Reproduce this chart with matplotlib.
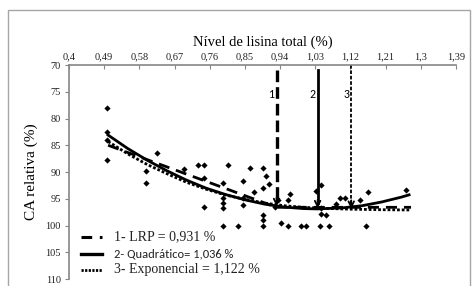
import matplotlib

matplotlib.use("Agg")
import matplotlib.pyplot as plt  # noqa: E402
from matplotlib.lines import Line2D  # noqa: E402
from matplotlib.patches import Rectangle  # noqa: E402

# pontos observados (nivel de lisina, CA relativa)
obs_x = [
    0.497, 0.497, 0.497, 0.497,
    0.597, 0.597, 0.626, 0.695, 0.729,
    0.746, 0.746, 0.746,
    0.793, 0.793, 0.793, 0.793, 0.795, 0.808, 0.832,
    0.844, 0.844, 0.844, 0.862, 0.874,
    0.896, 0.896, 0.896, 0.896, 0.896, 0.904, 0.911, 0.926,
    0.934, 0.943, 0.960, 0.960, 0.966, 0.994, 1.007,
    1.033, 1.045, 1.045, 1.045, 1.058, 1.043, 1.065,
    1.082, 1.092, 1.105, 1.145, 1.161, 1.165, 1.262,
]
obs_y = [
    78.1, 82.6, 84.0, 87.8,
    89.9, 92.0, 86.5, 89.5, 88.7,
    88.6, 91.1, 96.5,
    92.1, 94.9, 95.8, 96.7, 100.0, 88.6, 100.0,
    91.7, 94.9, 96.2, 89.2, 93.7,
    89.2, 92.9, 98.0, 99.0, 100.0, 90.7, 92.3, 96.5,
    95.2, 99.6, 95.2, 100.0, 94.2, 100.0, 100.0,
    93.6, 92.4, 96.8, 97.8, 98.0, 100.0, 100.0,
    95.9, 94.9, 94.9, 95.2, 100.0, 93.7, 93.4,
]

# curvas ajustadas
lrp_x = [0.50, 0.931, 1.275]
lrp_y = [85.0, 96.6, 96.6]

quad_x = [0.50, 0.55, 0.60, 0.65, 0.70, 0.75, 0.80, 0.85, 0.90, 0.95,
          1.00, 1.036, 1.10, 1.15, 1.20, 1.25, 1.27]
quad_y = [83.1, 85.6, 87.8, 89.75, 91.5, 93.0, 94.2, 95.2, 96.0, 96.55,
          96.84, 96.9, 96.7, 96.3, 95.6, 94.7, 94.27]

expo_x = [0.50, 0.55, 0.60, 0.65, 0.70, 0.75, 0.80, 0.85, 0.90, 0.95,
          1.00, 1.05, 1.122, 1.20, 1.275]
expo_y = [84.3, 86.6, 88.6, 90.3, 91.9, 93.2, 94.3, 95.1, 95.8, 96.3,
          96.6, 96.8, 96.95, 97.05, 97.1]

# exigencias estimadas
req_x = [0.931, 1.036, 1.122]
req_top = [71.0, 71.0, 70.0]
req_bottom = [96.4, 96.8, 96.9]
req_names = ["1", "2", "3"]

x_ticks = [0.4, 0.49, 0.58, 0.67, 0.76, 0.85, 0.94, 1.03, 1.12, 1.21, 1.3, 1.39]
y_ticks = [70, 75, 80, 85, 90, 95, 100, 105, 110]

legend_labels = ["1- LRP = 0,931 %", "2- Quadrático= 1,036 %", "3- Exponencial = 1,122 %"]

SERIF = ["Liberation Serif", "DejaVu Serif"]
SANS = ["Carlito", "Liberation Sans", "DejaVu Sans"]
GRAY = "#868686"

fig = plt.figure(figsize=(4.73, 2.86), dpi=100)
ax = fig.add_axes([69 / 473, 1 - 279 / 286, (456 - 69) / 473, (279 - 65) / 286])

ax.scatter(obs_x, obs_y, marker="D", s=10, color="black", zorder=3, linewidths=0)
ax.plot(lrp_x, lrp_y, color="black", lw=2.0, dashes=(4, 2.5))
ax.plot(quad_x, quad_y, color="black", lw=2.0)
ax.plot(expo_x, expo_y, color="black", lw=2.0, dashes=(1, 0.7))

styles = [dict(lw=2.4, dashes=(3.5, 1.5)), dict(lw=2.0), dict(lw=1.3, dashes=(2, 1))]
for xv, top, bot, name, st in zip(req_x, req_top, req_bottom, req_names, styles):
    ax.plot([xv, xv], [top, bot - 1.0], color="black", **st)
    ax.annotate("", xy=(xv, bot), xytext=(xv, bot - 1.6),
                arrowprops=dict(arrowstyle="->", lw=1.3, color="black",
                                mutation_scale=10, shrinkA=0, shrinkB=0))
    ax.text(xv - 0.013, 75.6, name, ha="center", va="center", fontsize=8.5,
            family=SANS)

ax.set_xlim(0.4, 1.39)
ax.set_ylim(110, 70)
ax.xaxis.tick_top()
ax.xaxis.set_label_position("top")
ax.set_xticks(x_ticks)
ax.set_xticklabels([f"{v:g}".replace(".", ",") for v in x_ticks], family=SERIF, fontsize=7.5)
ax.set_yticks(y_ticks)
ax.set_yticklabels([str(v) for v in y_ticks], family=SERIF, fontsize=7.5)
ax.tick_params(axis="x", direction="in", length=3, color=GRAY, pad=3, labelcolor="#222222")
ax.tick_params(axis="y", direction="out", length=3, color=GRAY, pad=3, labelcolor="#222222")
for side in ("right", "bottom"):
    ax.spines[side].set_visible(False)
for side in ("left", "top"):
    ax.spines[side].set_color(GRAY)
    ax.spines[side].set_linewidth(1.2)

ax.set_xlabel("Nível de lisina total (%)", family=SERIF, fontsize=10.5, labelpad=4)
ax.set_ylabel("CA relativa (%)", family=SERIF, fontsize=11, labelpad=5)

# legenda manual
rows_y = [237, 254, 270]
leg_styles = [dict(lw=2.2, dashes=(3.5, 2.5)), dict(lw=2.4), dict(lw=2.0, dashes=(0.8, 0.5))]
leg_fonts = [SERIF, SANS, SERIF]
leg_sizes = [10, 9, 10]
for py, label, st, fam, fs in zip(rows_y, legend_labels, leg_styles, leg_fonts, leg_sizes):
    yf = 1 - py / 286
    fig.add_artist(Line2D([81 / 473, 102 / 473], [yf, yf], color="black",
                          transform=fig.transFigure, **st))
    fig.text(114 / 473, yf, label, ha="left", va="center", fontsize=fs, family=fam,
             color="#222222")

fig.add_artist(Rectangle((8 / 473, -0.1), 462 / 473, 1.1 - 10 / 286, transform=fig.transFigure,
                         fill=False, edgecolor="#a6a6a6", lw=1.0))

fig.savefig("out.png", dpi=100)
